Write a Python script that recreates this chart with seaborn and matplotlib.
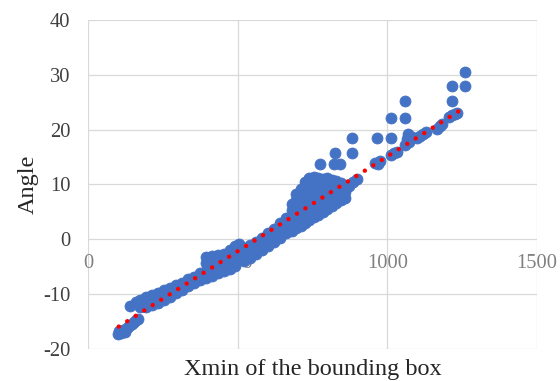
import numpy as np
import pandas as pd
import matplotlib
matplotlib.use("Agg")
import matplotlib.pyplot as plt
import seaborn as sns

# ---- data ----
seg_a_x = [100, 105, 112, 118, 124, 130, 138, 146, 154, 162, 168]
seg_a_y = [-17.3, -16.8, -17.1, -16.6, -16.9, -16.1, -15.8, -15.5, -15.1, -14.8, -14.5]

seg_b_x = [162, 175, 175, 195, 195, 215, 215, 235, 235, 255, 255, 275, 275,
           295, 295, 315, 315, 335, 335, 355, 355, 375, 375]
seg_b_y = [-11.4, -12.4, -11.0, -12.3, -10.6, -12.0, -10.2, -11.6, -9.7, -11.0, -9.3,
           -10.5, -8.8, -9.8, -8.3, -9.2, -7.9, -8.6, -7.2, -8.0, -6.8, -7.4, -6.2]

seg_c_x = [395, 395, 395, 395, 415, 415, 415, 415, 435, 435, 435, 435,
           455, 455, 455, 455, 475, 475, 475, 475, 492, 492, 492, 492, 503]
seg_c_y = [-7.0, -5.7, -4.4, -3.2, -6.6, -5.3, -4.1, -3.0, -6.2, -4.9, -3.8, -2.9,
           -5.8, -4.5, -3.4, -2.7, -5.4, -4.2, -3.0, -2.0, -4.9, -3.7, -2.5, -1.3, -0.8]

seg_d_x = [520, 520, 520, 540, 540, 540, 560, 560, 560, 580, 580, 580,
           600, 600, 600, 620, 620, 620, 640, 640, 640, 660, 660, 660]
seg_d_y = [-3.9, -2.6, -1.5, -3.4, -2.2, -1.1, -2.7, -1.6, -0.5, -1.9, -0.8, 0.3,
           -1.2, 0.0, 1.1, -0.5, 0.7, 1.9, 0.3, 1.6, 2.9, 1.1, 2.5, 3.9]

seg_e_x = [680, 680, 680, 680, 680,
           695, 695, 695, 695, 695, 695,
           710, 710, 710, 710, 710, 710,
           725, 725, 725, 725, 725, 725, 725,
           740, 740, 740, 740, 740, 740, 740,
           755, 755, 755, 755, 755, 755, 755,
           770, 770, 770, 770, 770, 770, 770,
           785, 785, 785, 785, 785, 785,
           800, 800, 800, 800, 800, 800,
           815, 815, 815, 815, 815, 815,
           830, 830, 830, 830, 830,
           845, 845, 845, 845,
           860, 860, 860]
seg_e_y = [1.6, 2.9, 4.2, 5.4, 6.5,
           2.0, 3.3, 4.6, 5.9, 7.1, 8.2,
           2.5, 3.8, 5.1, 6.4, 7.7, 9.2,
           3.0, 4.3, 5.6, 6.9, 8.2, 9.4, 10.4,
           3.5, 4.8, 6.1, 7.4, 8.6, 9.8, 11.1,
           4.0, 5.3, 6.5, 7.8, 9.0, 10.1, 11.3,
           4.5, 5.8, 7.0, 8.2, 9.4, 10.4, 11.2,
           5.0, 6.2, 7.4, 8.6, 9.8, 11.0,
           5.6, 6.8, 8.0, 9.1, 10.2, 11.1,
           6.1, 7.3, 8.5, 9.6, 10.6, 10.9,
           6.6, 7.8, 9.0, 10.1, 10.7,
           7.1, 8.3, 9.4, 10.3,
           7.6, 8.6, 9.3]

seg_f_x = [872, 886, 900, 958, 968, 976, 1012, 1022, 1032, 1060, 1066, 1068, 1074, 1082,
           1100, 1110, 1120, 1130, 1165, 1175, 1183, 1205, 1215, 1225, 1232]
seg_f_y = [9.7, 10.4, 11.0, 14.0, 13.7, 14.2, 15.4, 15.8, 16.0, 17.2, 18.3, 19.2, 17.8, 18.6,
           18.5, 18.9, 19.2, 19.6, 20.2, 20.6, 21.0, 22.4, 22.6, 22.9, 23.0]

outlier_x = [140, 776, 822, 842, 824, 882, 882, 967, 1013, 1013, 1058, 1058, 1215, 1215, 1260, 1260]
outlier_y = [-12.2, 13.8, 13.8, 13.8, 15.8, 15.8, 18.5, 18.5, 18.5, 22.2, 22.2, 25.2, 25.3, 28.0, 28.0, 30.5]

# linear trend line (Excel-style): angle = slope * x + intercept
trend_slope = 0.0346
trend_intercept = -19.48
trend_x_range = [103, 1258]

x_ticks = [0, 500, 1000, 1500]
y_ticks = [-20, -10, 0, 10, 20, 30, 40]
x_label = "Xmin of the bounding box"
y_label = "Angle"

xs = seg_a_x + seg_b_x + seg_c_x + seg_d_x + seg_e_x + seg_f_x + outlier_x
ys = seg_a_y + seg_b_y + seg_c_y + seg_d_y + seg_e_y + seg_f_y + outlier_y
df = pd.DataFrame({"x": xs, "y": ys})

tx = np.array(trend_x_range, dtype=float)
trend_df = pd.DataFrame({"x": tx, "y": trend_slope * tx + trend_intercept})

# ---- style ----
sns.set_theme(style="white")
plt.rcParams["font.family"] = ["Liberation Serif", "DejaVu Serif"]
plt.rcParams["axes.unicode_minus"] = False

fig = plt.figure(figsize=(5.6, 3.81), dpi=100)
ax = fig.add_axes([0.157, 0.084, 0.802, 0.8635])

sns.scatterplot(data=df, x="x", y="y", s=62, color="#4472C4", edgecolor="#4472C4",
                linewidth=0.6, ax=ax, zorder=3)
sns.lineplot(data=trend_df, x="x", y="y", ax=ax, color="#FF0000", lw=3.2,
             ls=(0, (0.01, 2.25)), dash_capstyle="round", zorder=4)

ax.set_xlim(0, 1500)
ax.set_ylim(-20, 40)
ax.set_xticks(x_ticks)
ax.set_yticks(y_ticks)
ax.grid(True, color="#D9D9D9", lw=0.9)
ax.set_axisbelow(True)
for s in ax.spines.values():
    s.set_visible(False)
ax.spines["bottom"].set_position(("data", 0))

ax.tick_params(axis="x", length=0, pad=10.5, labelsize=14.8, labelcolor="#808080")
ax.tick_params(axis="y", length=0, pad=12.5, labelsize=14.8, labelcolor="#404040")

ax.set_xlabel(x_label, fontsize=17.5, color="#262626")
ax.set_ylabel(y_label, fontsize=17.5, color="#262626")
ax.xaxis.set_label_coords(0.5, -0.03)
ax.yaxis.set_label_coords(-0.11, 0.5)

fig.savefig("out.png", dpi=100)
